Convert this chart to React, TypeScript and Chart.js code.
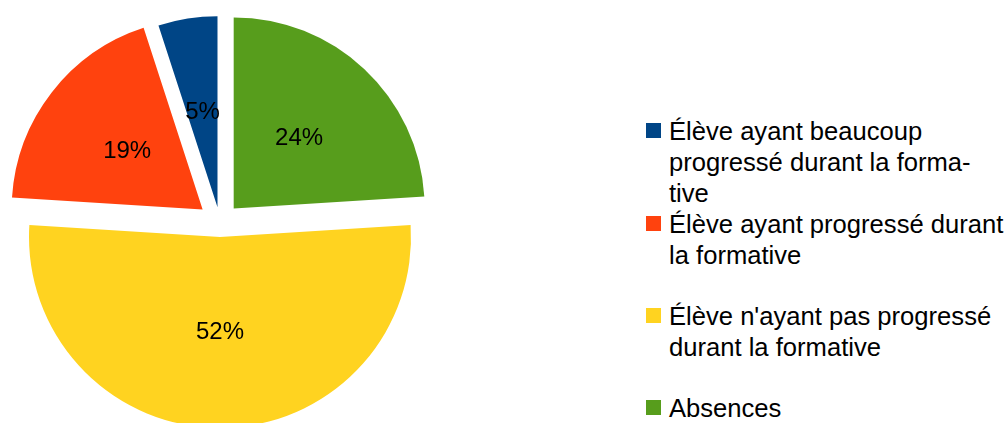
import React, { useEffect, useRef } from "react";
import { Chart, registerables } from "chart.js";

Chart.register(...registerables);

// Legend order (as in the reference)
const categories = [
  "Élève ayant beaucoup progressé durant la formative",
  "Élève ayant progressé durant la formative",
  "Élève n'ayant pas progressé durant la formative",
  "Absences",
];
const legendLines = [
  ["Élève ayant beaucoup", "progressé durant la forma-", "tive"],
  ["Élève ayant progressé durant", "la formative"],
  ["Élève n'ayant pas progressé", "durant la formative"],
  ["Absences"],
];
const percentages = [5, 19, 52, 24];
const colors = ["#004586", "#ff420e", "#ffd320", "#579d1c"];
const explodeOffsets = [16, 22, 14, 20];

const legendBaselines = [140, 233, 325, 417];

const explodePlugin = {
  id: "explodeSlices",
  afterDatasetsUpdate(chart: any, _args: any, opts: any) {
    const meta = chart.getDatasetMeta(0);
    const offs: number[] = opts.offsets || [];
    meta.data.forEach((arc: any, i: number) => {
      const mid = (arc.startAngle + arc.endAngle) / 2;
      const o = offs[i] || 0;
      arc.x += Math.cos(mid) * o;
      arc.y += Math.sin(mid) * o;
    });
  },
};

const labelPlugin = {
  id: "sliceLabels",
  afterDatasetsDraw(chart: any) {
    const ctx = chart.ctx;
    const meta = chart.getDatasetMeta(0);
    const data = chart.data.datasets[0].data;
    ctx.save();
    ctx.font = '24px "Liberation Sans", Arial, sans-serif';
    ctx.fillStyle = "#000";
    ctx.textAlign = "center";
    ctx.textBaseline = "middle";
    meta.data.forEach((arc: any, i: number) => {
      const mid = (arc.startAngle + arc.endAngle) / 2;
      const d = arc.outerRadius * 0.5;
      const x = arc.x + Math.cos(mid) * d;
      const y = arc.y + Math.sin(mid) * d;
      ctx.fillText(`${data[i]}%`, x, y);
    });
    ctx.restore();
  },
};

export default function App() {
  const canvasRef = useRef<HTMLCanvasElement | null>(null);

  useEffect(() => {
    const canvas = canvasRef.current;
    if (!canvas) return;
    // Chart.js draws clockwise from the top: reverse the legend order
    const order = [3, 2, 1, 0];
    const chart = new Chart(canvas, {
      type: "pie",
      data: {
        labels: order.map((i) => categories[i]),
        datasets: [
          {
            data: order.map((i) => percentages[i]),
            backgroundColor: order.map((i) => colors[i]),
            borderWidth: 0,
            clip: false,
          } as any,
        ],
      },
      options: {
        responsive: false,
        animation: false,
        events: [],
        radius: 191,
        layout: { padding: 0 },
        plugins: {
          legend: { display: false },
          tooltip: { enabled: false },
          explodeSlices: { offsets: order.map((i) => explodeOffsets[i]) },
        } as any,
      } as any,
      plugins: [explodePlugin, labelPlugin],
    });
    return () => chart.destroy();
  }, []);

  const font = '"Liberation Sans", Arial, sans-serif';
  const fontSize = 25.6;
  const lineH = 31;
  const baselineInLine = (lineH - 1.117 * fontSize) / 2 + 0.905 * fontSize;

  return (
    <div
      style={{
        position: "fixed",
        left: 0,
        top: 0,
        width: 1008,
        height: 423,
        overflow: "hidden",
        background: "#fff",
      }}
    >
      <canvas
        ref={canvasRef}
        width={440}
        height={446}
        style={{ position: "absolute", left: 0, top: 0, display: "block" }}
      />
      {legendLines.map((lines, i) => (
        <React.Fragment key={i}>
          <div
            style={{
              position: "absolute",
              left: 646,
              top: legendBaselines[i] - 17,
              width: 15,
              height: 15,
              background: colors[i],
            }}
          />
          <div
            style={{
              position: "absolute",
              left: 669,
              top: legendBaselines[i] - baselineInLine,
              fontFamily: font,
              fontSize,
              lineHeight: `${lineH}px`,
              color: "#000",
              whiteSpace: "nowrap",
            }}
          >
            {lines.map((l, j) => (
              <div key={j}>{l}</div>
            ))}
          </div>
        </React.Fragment>
      ))}
    </div>
  );
}
